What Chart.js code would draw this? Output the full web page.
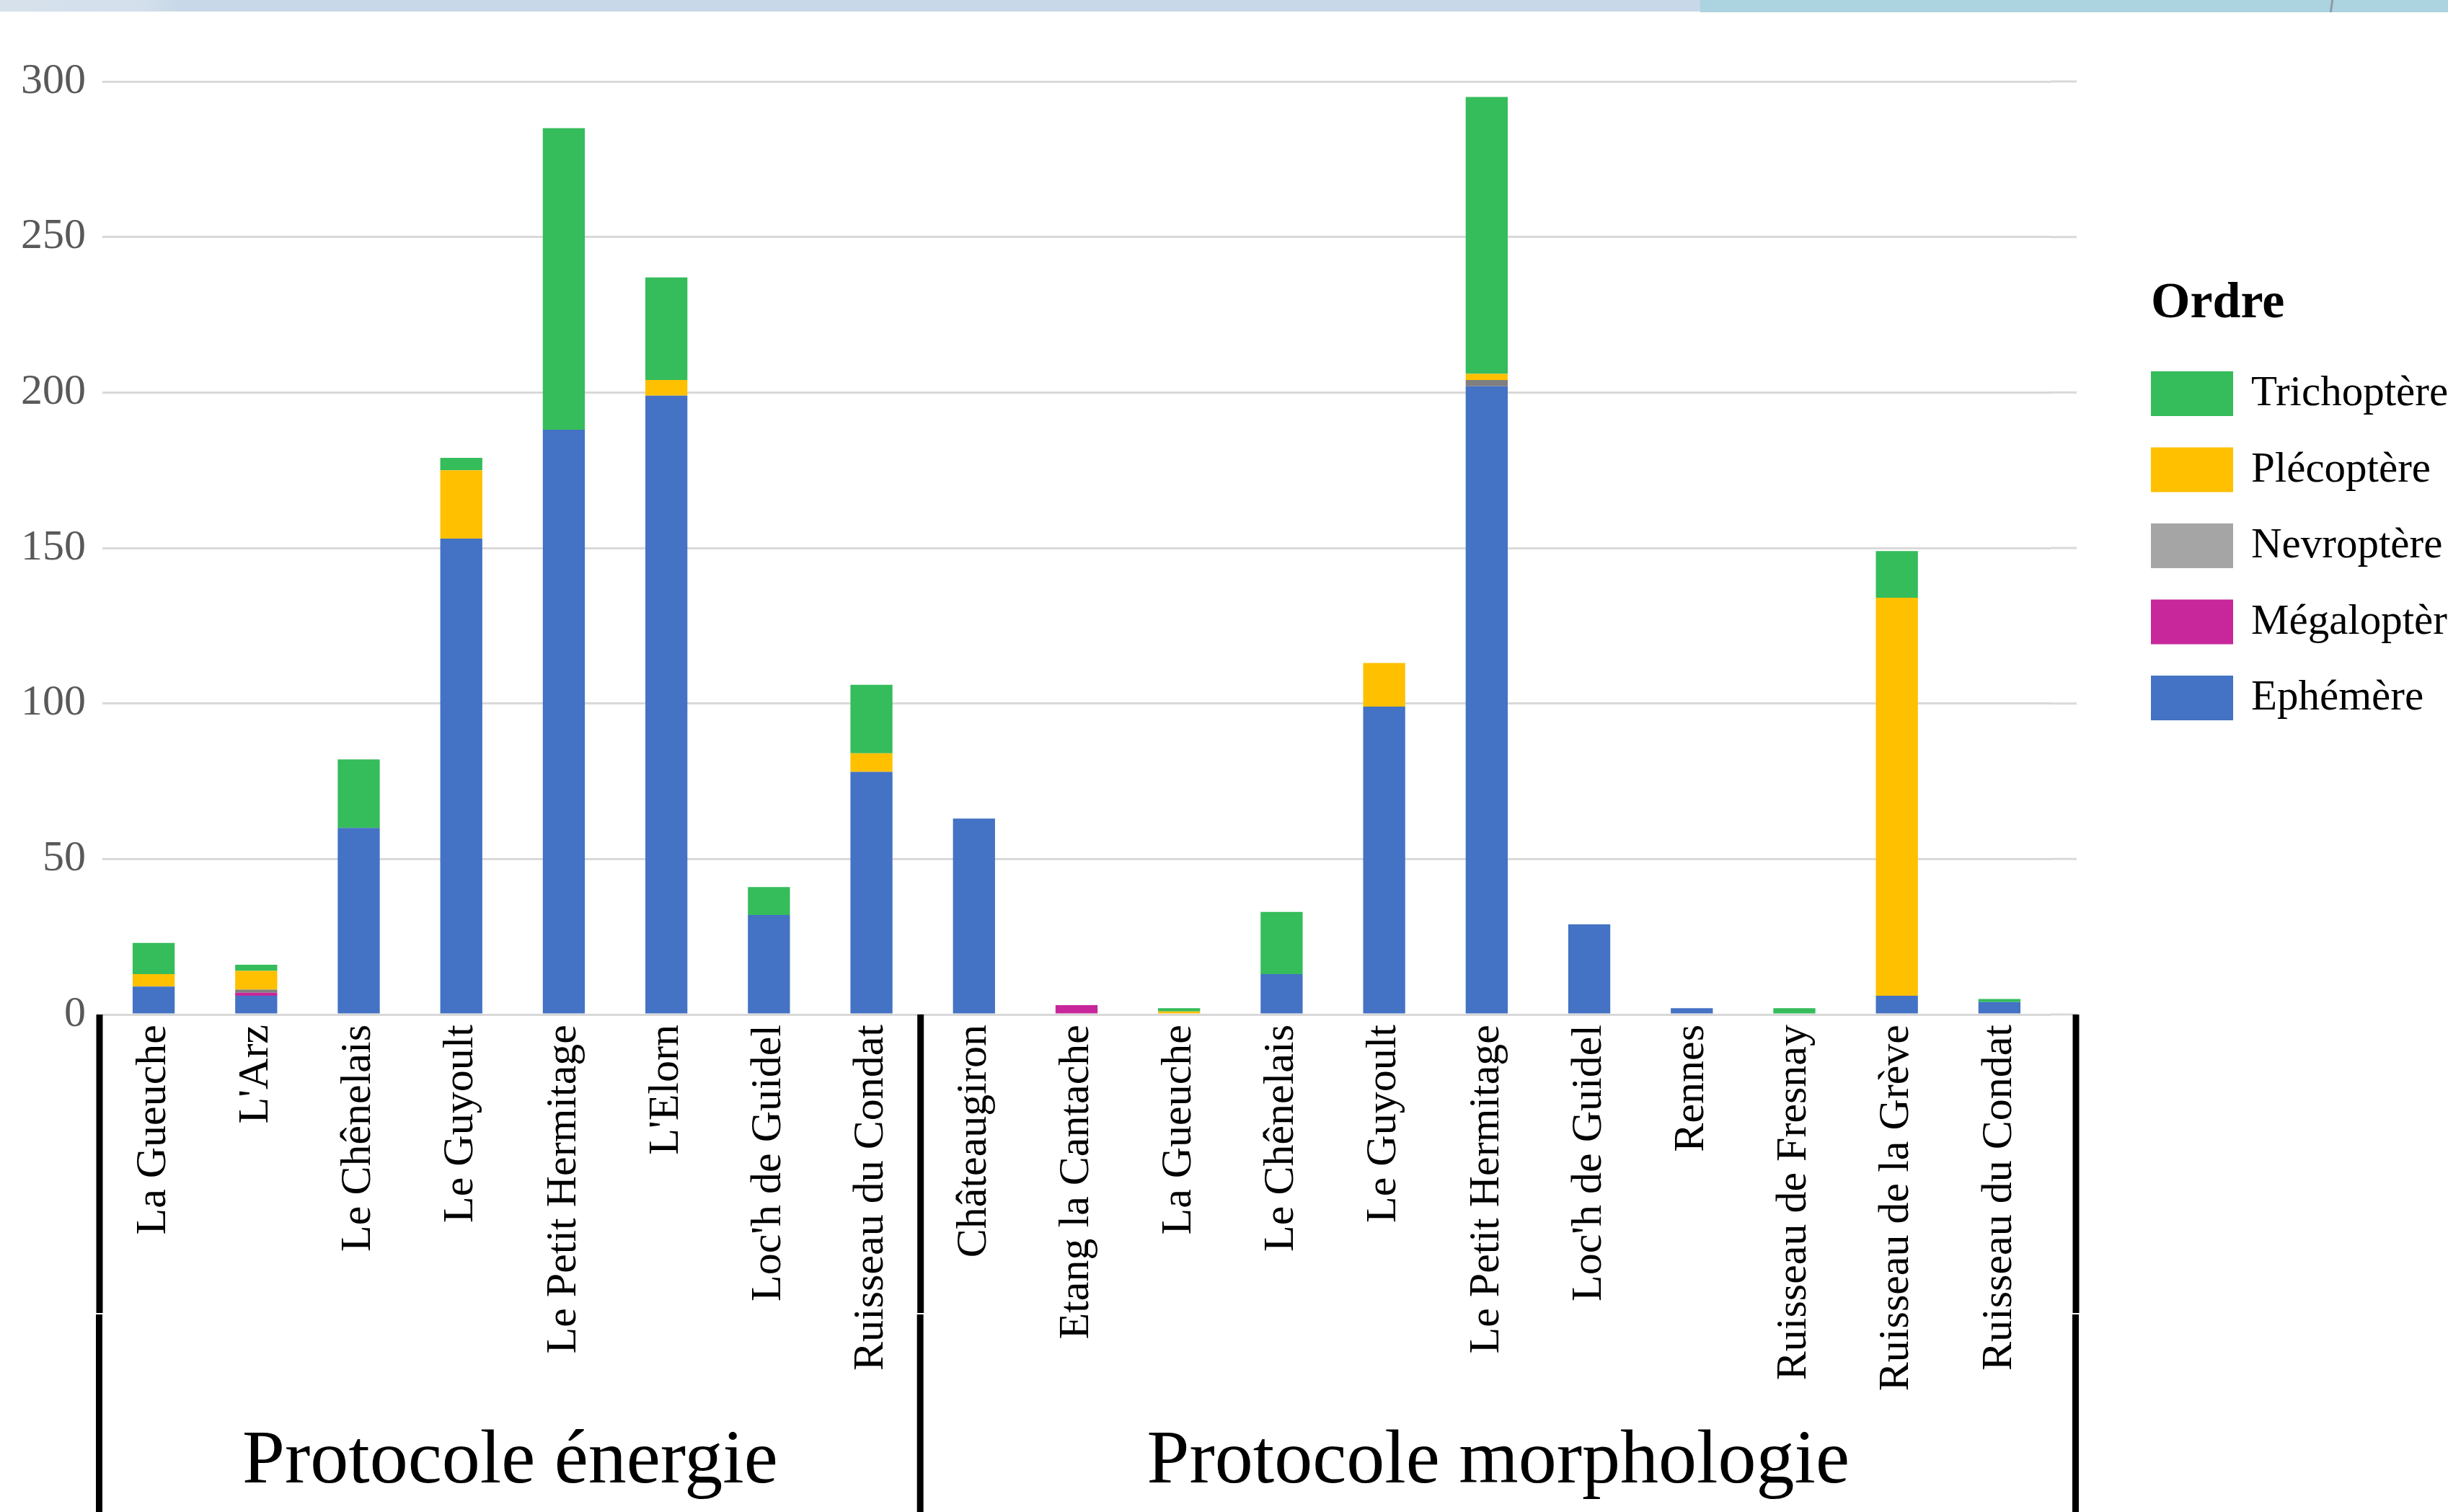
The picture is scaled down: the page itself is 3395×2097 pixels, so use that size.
<!DOCTYPE html>
<html>
<head>
<meta charset="utf-8">
<script src="https://cdn.jsdelivr.net/npm/chart.js@4.4.1/dist/chart.umd.min.js"></script>
<style>
  html, body { margin: 0; padding: 0; background: #ffffff; overflow: hidden; }
  #wrap { position: relative; width: 3395px; height: 2097px; }
  #strip1 { position: absolute; left: 0; top: 0; width: 2358px; height: 16px;
            background: linear-gradient(to right, #d6e1ec 0px, #d3dfeb 200px, #c8d8e8 250px, #c8d8e8 100%); }
  #strip2 { position: absolute; left: 2358px; top: 0; width: 1037px; height: 17px; background: #abd3e0; }
  #strip3 { position: absolute; left: 3232px; top: 0; width: 3px; height: 17px; background: #8e9aa6; transform: skewX(-8deg); }
  canvas { position: absolute; left: 0; top: 0; }
</style>
</head>
<body>
<div id="wrap">
  <canvas id="c" width="3395" height="2097"></canvas>
  <div id="strip1"></div><div id="strip2"></div><div id="strip3"></div>
</div>
<script>
// ---- data ----
const categories = ["La Gueuche","L'Arz","Le Chênelais","Le Guyoult","Le Petit Hermitage","L'Elorn","Loc'h de Guidel","Ruisseau du Condat",
                    "Châteaugiron","Etang la Cantache","La Gueuche","Le Chênelais","Le Guyoult","Le Petit Hermitage","Loc'h de Guidel","Rennes","Ruisseau de Fresnay","Ruisseau de la Grève","Ruisseau du Condat"];
const groupLabels = ["Protocole énergie", "Protocole morphologie"];
const groupSizes = [8, 11];
const seriesNames = ["Ephémère", "Mégaloptère", "Nevroptère", "Plécoptère", "Trichoptère"];
const ephemere    = [9, 6, 60, 153, 188, 199, 32, 78, 63, 0, 0, 13, 99, 202, 29, 2, 0, 6, 4];
const megaloptere = [0, 1, 0, 0, 0, 0, 0, 0, 0, 3, 0, 0, 0, 0, 0, 0, 0, 0, 0];
const nevroptere  = [0, 1, 0, 0, 0, 0, 0, 0, 0, 0, 0, 0, 0, 2, 0, 0, 0, 0, 0];
const plecoptere  = [4, 6, 0, 22, 0, 5, 0, 6, 0, 0, 1, 0, 14, 2, 0, 0, 0, 128, 0];
const trichoptere = [10, 2, 22, 4, 97, 33, 9, 22, 0, 0, 1, 20, 0, 89, 0, 0, 2, 15, 1];
const yTicks = [0, 50, 100, 150, 200, 250, 300];
const legendTitle = "Ordre";

// ---- styles ----
const colors = ["#4472c4", "#c7279b", "#7f7f7f", "#ffc000", "#35bc5b"];
const legendColors = ["#4472c4", "#c7279b", "#a5a5a5", "#ffc000", "#35bc5b"];
const serif = "'Liberation Serif', 'Times New Roman', serif";

const values = [ephemere, megaloptere, nevroptere, plecoptere, trichoptere];
const datasets = seriesNames.map((n, i) => ({
  label: n,
  data: values[i],
  backgroundColor: colors[i],
  borderWidth: 0,
  categoryPercentage: 0.41,
  barPercentage: 1.0
}));

const decor = {
  id: 'decor',
  beforeDatasetsDraw(chart) {
    const ctx = chart.ctx, ca = chart.chartArea, y = chart.scales.y;
    ctx.save();
    ctx.strokeStyle = '#d9d9d9';
    ctx.lineWidth = 3;
    yTicks.forEach(v => {
      const py = y.getPixelForValue(v);
      ctx.beginPath(); ctx.moveTo(ca.right, py); ctx.lineTo(ca.right + 36, py); ctx.stroke();
    });
    ctx.restore();
  },
  afterDraw(chart) {
    const ctx = chart.ctx, ca = chart.chartArea, x = chart.scales.x;
    const H = chart.height;
    ctx.save();
    // group separators
    const lines = [ca.left - 4];
    let idx = 0;
    for (let g = 0; g < groupSizes.length - 1; g++) {
      idx += groupSizes[g];
      lines.push((x.getPixelForValue(idx - 1) + x.getPixelForValue(idx)) / 2 - 3);
    }
    lines.push(ca.right + 35);
    ctx.fillStyle = '#000';
    lines.forEach(lx => {
      ctx.fillRect(lx - 4.5, ca.bottom, 9, 414);
      ctx.fillRect(lx - 5, ca.bottom + 416, 9, H - ca.bottom - 416);
    });
    // group labels
    ctx.font = "106px " + serif;
    ctx.textAlign = 'center';
    ctx.textBaseline = 'alphabetic';
    groupLabels.forEach((t, g) => {
      ctx.fillText(t, (lines[g] + lines[g + 1]) / 2, ca.bottom + 649);
    });
    // legend
    const lx = 2983, ly0 = 515, step = 105.5;
    ctx.textAlign = 'left';
    ctx.font = "bold 70px " + serif;
    ctx.fillText(legendTitle, lx, 440);
    ctx.font = "59px " + serif;
    for (let k = 0; k < seriesNames.length; k++) {
      const i = seriesNames.length - 1 - k;
      const by = ly0 + k * step;
      ctx.fillStyle = legendColors[i];
      ctx.fillRect(lx, by, 114, 62);
      ctx.fillStyle = '#000';
      ctx.fillText(seriesNames[i], 3122, by + 47);
    }
    ctx.restore();
  }
};

new Chart(document.getElementById('c'), {
  type: 'bar',
  data: { labels: categories, datasets },
  plugins: [decor],
  options: {
    responsive: false,
    animation: false,
    devicePixelRatio: 1,
    layout: { padding: { top: 113, right: 551, bottom: 0, left: 0 } },
    plugins: { legend: { display: false }, tooltip: { enabled: false } },
    scales: {
      x: {
        stacked: true,
        grid: { display: false, drawTicks: false },
        border: { display: false },
        ticks: {
          autoSkip: false, minRotation: 90, maxRotation: 90, padding: 14,
          color: '#000', font: { family: serif, size: 60 }
        },
        afterFit(s) { s.height = 690; }
      },
      y: {
        stacked: true,
        min: 0, max: 300,
        afterBuildTicks(s) { s.ticks = yTicks.map(v => ({ value: v })); },
        grid: { color: '#d9d9d9', lineWidth: 3, drawTicks: false },
        border: { display: false },
        ticks: { padding: 23, color: '#595959', font: { family: serif, size: 60 } },
        afterFit(s) { s.width = 142; }
      }
    }
  }
});
</script>
</body>
</html>
